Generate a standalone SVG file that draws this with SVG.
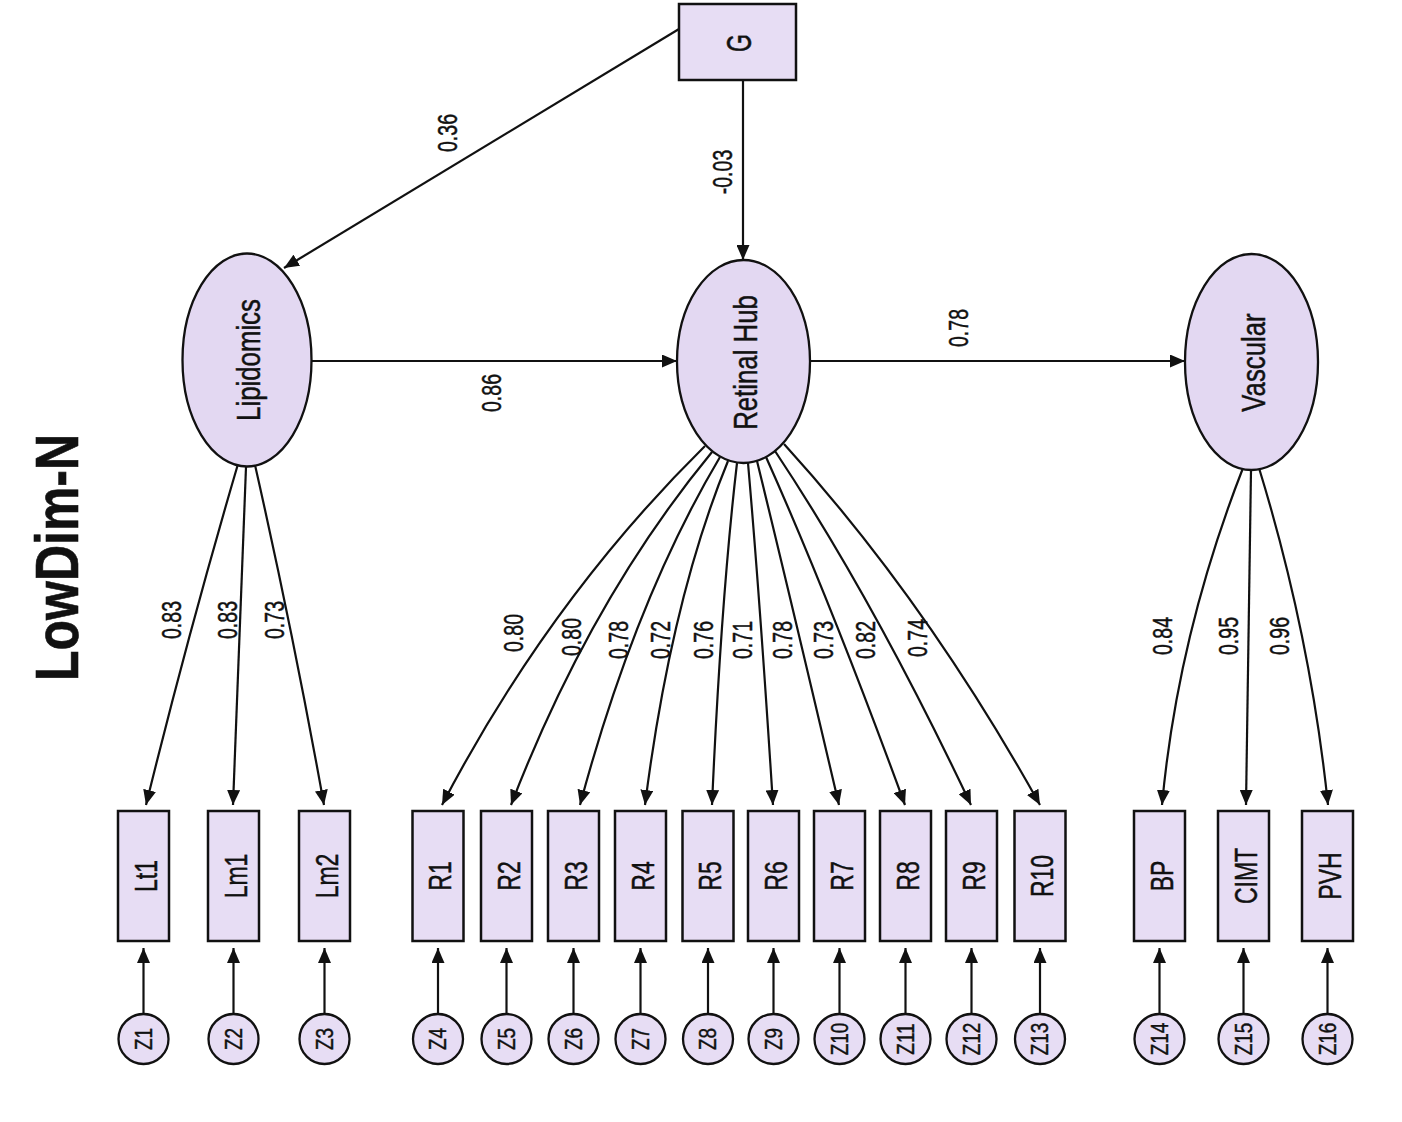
<svg xmlns="http://www.w3.org/2000/svg" width="1402" height="1122" viewBox="0 0 1402 1122">
<style>
.box{fill:#E7DDF4;stroke:#111;stroke-width:2.5}
.lat{fill:#E3D8F2;stroke:#111;stroke-width:2.3}
.err{fill:#E7DDF4;stroke:#111;stroke-width:2.3}
.edge{fill:none;stroke:#111;stroke-width:2.2;marker-end:url(#arr)}
text{font-family:"Liberation Sans",Arial,sans-serif;fill:#111;stroke:#111;stroke-width:0.35;text-anchor:middle}
.lbl{font-size:23px}
.latl{font-size:25.8px}
.num{font-size:19.5px}
.z{font-size:19px}
.title{font-size:50px;font-weight:bold;stroke-width:0.5}
</style>
<defs>
<marker id="arr" viewBox="0 0 15 13" refX="15" refY="6.5" markerWidth="15" markerHeight="13" markerUnits="userSpaceOnUse" orient="auto">
<path d="M0,0 L15,6.5 L0,13 z" fill="#111"/>
</marker>
</defs>
<rect width="1402" height="1122" fill="#fff"/>

<g id="connectors">
<path class="edge" d="M679,29 L284,268"/>
<path class="edge" d="M743,80 L743,260"/>
<path class="edge" d="M311,361 L677,361"/>
<path class="edge" d="M810,361 L1185,361"/>
<path class="edge" d="M238,464 Q188,634.5 146,805"/>
<path class="edge" d="M246,467 L233,805"/>
<path class="edge" d="M255,465 Q293.5,635 324,805"/>
<path class="edge" d="M705,446 Q549,600 442,805"/>
<path class="edge" d="M712,452 Q590,600 511,805"/>
<path class="edge" d="M720,457 Q635,600 580,805"/>
<path class="edge" d="M728,461 Q671,600 645,805"/>
<path class="edge" d="M737,463 Q721,600 712,805"/>
<path class="edge" d="M748,463 Q760,600 773,805"/>
<path class="edge" d="M757,461 Q791,600 839,805"/>
<path class="edge" d="M766,457 Q830,600 905,805"/>
<path class="edge" d="M775,451 Q874,600 971,805"/>
<path class="edge" d="M784,444 Q926,600 1040,805"/>
<path class="edge" d="M1243,468 Q1177.5,636 1162,805"/>
<path class="edge" d="M1251,470 L1246,805"/>
<path class="edge" d="M1259,468 Q1310.5,636 1328,805"/>
<path class="edge" d="M143.5,1016 L143.5,948"/>
<path class="edge" d="M233.5,1016 L233.5,948"/>
<path class="edge" d="M324.5,1016 L324.5,948"/>
<path class="edge" d="M438,1016 L438,948"/>
<path class="edge" d="M506.5,1016 L506.5,948"/>
<path class="edge" d="M573.5,1016 L573.5,948"/>
<path class="edge" d="M640.5,1016 L640.5,948"/>
<path class="edge" d="M708,1016 L708,948"/>
<path class="edge" d="M773.5,1016 L773.5,948"/>
<path class="edge" d="M839.5,1016 L839.5,948"/>
<path class="edge" d="M905.5,1016 L905.5,948"/>
<path class="edge" d="M971.5,1016 L971.5,948"/>
<path class="edge" d="M1040,1016 L1040,948"/>
<path class="edge" d="M1159.5,1016 L1159.5,948"/>
<path class="edge" d="M1243.5,1016 L1243.5,948"/>
<path class="edge" d="M1327.5,1016 L1327.5,948"/>
</g>

<g id="edge-labels">
<text class="num" transform="translate(456.75,133) rotate(-90) scale(1,1.4)">0.36</text>
<text class="num" transform="translate(731.75,172) rotate(-90) scale(1,1.4)">-0.03</text>
<text class="num" transform="translate(500.75,393) rotate(-90) scale(1,1.4)">0.86</text>
<text class="num" transform="translate(967.75,328) rotate(-90) scale(1,1.4)">0.78</text>
<text class="num" transform="translate(180.75,620) rotate(-90) scale(1,1.4)">0.83</text>
<text class="num" transform="translate(236.75,620) rotate(-90) scale(1,1.4)">0.83</text>
<text class="num" transform="translate(283.75,620) rotate(-90) scale(1,1.4)">0.73</text>
<text class="num" transform="translate(522.75,633) rotate(-90) scale(1,1.4)">0.80</text>
<text class="num" transform="translate(580.75,637) rotate(-90) scale(1,1.4)">0.80</text>
<text class="num" transform="translate(627.75,640) rotate(-90) scale(1,1.4)">0.78</text>
<text class="num" transform="translate(669.75,640) rotate(-90) scale(1,1.4)">0.72</text>
<text class="num" transform="translate(712.75,640) rotate(-90) scale(1,1.4)">0.76</text>
<text class="num" transform="translate(751.75,640) rotate(-90) scale(1,1.4)">0.71</text>
<text class="num" transform="translate(791.75,640) rotate(-90) scale(1,1.4)">0.78</text>
<text class="num" transform="translate(832.75,640) rotate(-90) scale(1,1.4)">0.73</text>
<text class="num" transform="translate(874.75,640) rotate(-90) scale(1,1.4)">0.82</text>
<text class="num" transform="translate(926.75,638) rotate(-90) scale(1,1.4)">0.74</text>
<text class="num" transform="translate(1171.75,636) rotate(-90) scale(1,1.4)">0.84</text>
<text class="num" transform="translate(1237.75,636) rotate(-90) scale(1,1.4)">0.95</text>
<text class="num" transform="translate(1288.75,636) rotate(-90) scale(1,1.4)">0.96</text>
</g>

<g id="title">
<text class="title" transform="translate(77.5,557.5) rotate(-90) scale(1,1.23)">LowDim-N</text>
</g>

<g id="node-G"><rect class="box" x="679" y="4" width="117" height="76"/><text class="lbl" transform="translate(750.8,43) rotate(-90) scale(1,1.55)">G</text></g>

<g id="node-Lipidomics"><ellipse class="lat" cx="247" cy="360" rx="64.5" ry="106.5"/><text class="latl" transform="translate(259.5,360) rotate(-90) scale(1,1.3)">Lipidomics</text></g>
<g id="node-RetinalHub"><ellipse class="lat" cx="743.5" cy="361.5" rx="66.5" ry="101.5"/><text class="latl" transform="translate(757,362.5) rotate(-90) scale(1,1.3)">Retinal Hub</text></g>
<g id="node-Vascular"><ellipse class="lat" cx="1251.5" cy="362" rx="66.5" ry="108"/><text class="latl" transform="translate(1265,362.5) rotate(-90) scale(1,1.3)">Vascular</text></g>

<g id="node-Lt1"><rect class="box" x="118" y="811" width="51" height="130"/><text class="lbl" transform="translate(156.5,876) rotate(-90) scale(1,1.38)">Lt1</text></g>
<g id="node-Lm1"><rect class="box" x="208" y="811" width="51" height="130"/><text class="lbl" transform="translate(246.5,876) rotate(-90) scale(1,1.38)">Lm1</text></g>
<g id="node-Lm2"><rect class="box" x="299" y="811" width="51" height="130"/><text class="lbl" transform="translate(337.5,876) rotate(-90) scale(1,1.38)">Lm2</text></g>
<g id="node-R1"><rect class="box" x="412.5" y="811" width="51" height="130"/><text class="lbl" transform="translate(451,876) rotate(-90) scale(1,1.38)">R1</text></g>
<g id="node-R2"><rect class="box" x="481" y="811" width="51" height="130"/><text class="lbl" transform="translate(519.5,876) rotate(-90) scale(1,1.38)">R2</text></g>
<g id="node-R3"><rect class="box" x="548" y="811" width="51" height="130"/><text class="lbl" transform="translate(586.5,876) rotate(-90) scale(1,1.38)">R3</text></g>
<g id="node-R4"><rect class="box" x="615" y="811" width="51" height="130"/><text class="lbl" transform="translate(653.5,876) rotate(-90) scale(1,1.38)">R4</text></g>
<g id="node-R5"><rect class="box" x="682.5" y="811" width="51" height="130"/><text class="lbl" transform="translate(721,876) rotate(-90) scale(1,1.38)">R5</text></g>
<g id="node-R6"><rect class="box" x="748" y="811" width="51" height="130"/><text class="lbl" transform="translate(786.5,876) rotate(-90) scale(1,1.38)">R6</text></g>
<g id="node-R7"><rect class="box" x="814" y="811" width="51" height="130"/><text class="lbl" transform="translate(852.5,876) rotate(-90) scale(1,1.38)">R7</text></g>
<g id="node-R8"><rect class="box" x="880" y="811" width="51" height="130"/><text class="lbl" transform="translate(918.5,876) rotate(-90) scale(1,1.38)">R8</text></g>
<g id="node-R9"><rect class="box" x="946" y="811" width="51" height="130"/><text class="lbl" transform="translate(984.5,876) rotate(-90) scale(1,1.38)">R9</text></g>
<g id="node-R10"><rect class="box" x="1014.5" y="811" width="51" height="130"/><text class="lbl" transform="translate(1053,876) rotate(-90) scale(1,1.38)">R10</text></g>
<g id="node-BP"><rect class="box" x="1134" y="811" width="51" height="130"/><text class="lbl" transform="translate(1172.5,876) rotate(-90) scale(1,1.38)">BP</text></g>
<g id="node-CIMT"><rect class="box" x="1218" y="811" width="51" height="130"/><text class="lbl" transform="translate(1256.5,876) rotate(-90) scale(1,1.38)">CIMT</text></g>
<g id="node-PVH"><rect class="box" x="1302" y="811" width="51" height="130"/><text class="lbl" transform="translate(1340.5,876) rotate(-90) scale(1,1.38)">PVH</text></g>

<g id="node-Z1"><circle class="err" cx="143.5" cy="1039" r="25"/><text class="z" transform="translate(151.8,1039) rotate(-90) scale(1,1.22)">Z1</text></g>
<g id="node-Z2"><circle class="err" cx="233.5" cy="1039" r="25"/><text class="z" transform="translate(241.8,1039) rotate(-90) scale(1,1.22)">Z2</text></g>
<g id="node-Z3"><circle class="err" cx="324.5" cy="1039" r="25"/><text class="z" transform="translate(332.8,1039) rotate(-90) scale(1,1.22)">Z3</text></g>
<g id="node-Z4"><circle class="err" cx="438" cy="1039" r="25"/><text class="z" transform="translate(446.3,1039) rotate(-90) scale(1,1.22)">Z4</text></g>
<g id="node-Z5"><circle class="err" cx="506.5" cy="1039" r="25"/><text class="z" transform="translate(514.8,1039) rotate(-90) scale(1,1.22)">Z5</text></g>
<g id="node-Z6"><circle class="err" cx="573.5" cy="1039" r="25"/><text class="z" transform="translate(581.8,1039) rotate(-90) scale(1,1.22)">Z6</text></g>
<g id="node-Z7"><circle class="err" cx="640.5" cy="1039" r="25"/><text class="z" transform="translate(648.8,1039) rotate(-90) scale(1,1.22)">Z7</text></g>
<g id="node-Z8"><circle class="err" cx="708" cy="1039" r="25"/><text class="z" transform="translate(716.3,1039) rotate(-90) scale(1,1.22)">Z8</text></g>
<g id="node-Z9"><circle class="err" cx="773.5" cy="1039" r="25"/><text class="z" transform="translate(781.8,1039) rotate(-90) scale(1,1.22)">Z9</text></g>
<g id="node-Z10"><circle class="err" cx="839.5" cy="1039" r="25"/><text class="z" transform="translate(847.8,1039) rotate(-90) scale(1,1.22)">Z10</text></g>
<g id="node-Z11"><circle class="err" cx="905.5" cy="1039" r="25"/><text class="z" transform="translate(913.8,1039) rotate(-90) scale(1,1.22)">Z11</text></g>
<g id="node-Z12"><circle class="err" cx="971.5" cy="1039" r="25"/><text class="z" transform="translate(979.8,1039) rotate(-90) scale(1,1.22)">Z12</text></g>
<g id="node-Z13"><circle class="err" cx="1040" cy="1039" r="25"/><text class="z" transform="translate(1048.3,1039) rotate(-90) scale(1,1.22)">Z13</text></g>
<g id="node-Z14"><circle class="err" cx="1159.5" cy="1039" r="25"/><text class="z" transform="translate(1167.8,1039) rotate(-90) scale(1,1.22)">Z14</text></g>
<g id="node-Z15"><circle class="err" cx="1243.5" cy="1039" r="25"/><text class="z" transform="translate(1251.8,1039) rotate(-90) scale(1,1.22)">Z15</text></g>
<g id="node-Z16"><circle class="err" cx="1327.5" cy="1039" r="25"/><text class="z" transform="translate(1335.8,1039) rotate(-90) scale(1,1.22)">Z16</text></g>
</svg>
